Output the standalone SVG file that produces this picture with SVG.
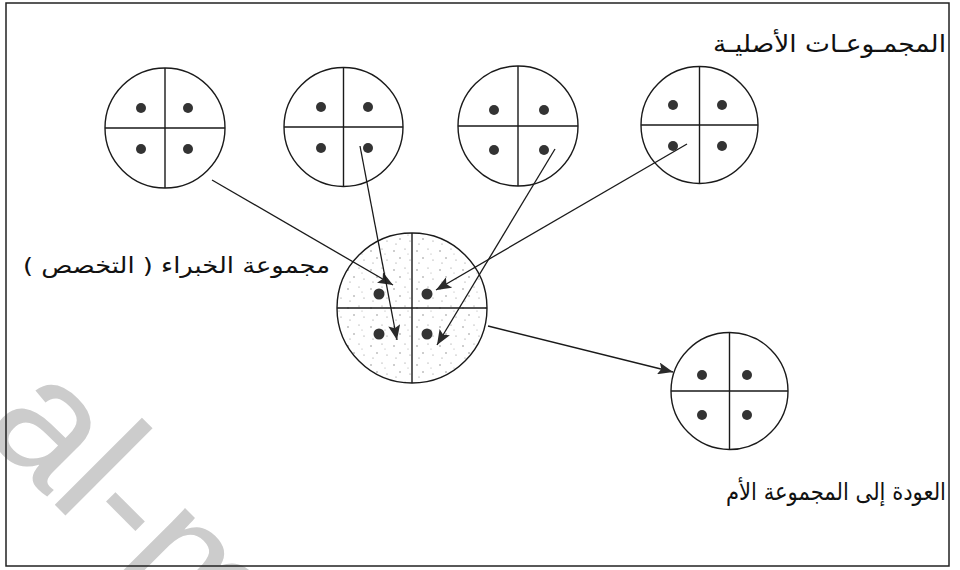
<svg xmlns="http://www.w3.org/2000/svg" width="960" height="570" viewBox="0 0 960 570">
<style>
.ring{fill:#fff;stroke:#1a1a1a;stroke-width:1.4}
.q{stroke:#1a1a1a;stroke-width:1.4;fill:none}
.dot{fill:#333}
.conn{stroke:#1a1a1a;stroke-width:1.3;fill:none;marker-end:url(#ah)}
.lbl{font-family:"DejaVu Sans",sans-serif;fill:#111}
</style>
<defs>
<marker id="ah" markerUnits="userSpaceOnUse" markerWidth="16" markerHeight="12" refX="15" refY="6" orient="auto">
<path d="M0,0 L15,6 L0,12 L3,6 z" fill="#2a2a2a"/>
</marker>
<pattern id="stip" patternUnits="userSpaceOnUse" width="23" height="19">
<rect width="23" height="19" fill="#fff"/>
<circle cx="3" cy="4" r="0.7" fill="#777"/>
<circle cx="14" cy="2" r="0.6" fill="#888"/>
<circle cx="9" cy="11" r="0.7" fill="#777"/>
<circle cx="19" cy="13" r="0.6" fill="#888"/>
<circle cx="5" cy="16" r="0.6" fill="#888"/>
<circle cx="17" cy="7" r="0.5" fill="#999"/>
</pattern>
</defs>
<rect width="960" height="570" fill="#fff"/>
<text x="-20" y="430" transform="rotate(45 -20 430)" font-family="Liberation Sans, sans-serif" font-size="170" fill="#cccccc">al-m</text>
<rect x="6" y="3" width="943" height="563" fill="none" stroke="#222" stroke-width="1.5"/>

<g id="g1">
<circle class="ring" cx="165" cy="128" r="60"/>
<path class="q" d="M105,128 H225 M165,68 V188"/>
<circle class="dot" cx="141" cy="108" r="5"/><circle class="dot" cx="188" cy="108" r="5"/>
<circle class="dot" cx="141" cy="149" r="5"/><circle class="dot" cx="188" cy="149" r="5"/>
</g>
<g id="g2">
<circle class="ring" cx="343.5" cy="127" r="59.5"/>
<path class="q" d="M284,127 H403 M343.5,67.5 V186.5"/>
<circle class="dot" cx="321" cy="107" r="5"/><circle class="dot" cx="368" cy="107" r="5"/>
<circle class="dot" cx="321" cy="148" r="5"/><circle class="dot" cx="368" cy="148" r="5"/>
</g>
<g id="g3">
<circle class="ring" cx="518" cy="126" r="60"/>
<path class="q" d="M458,126 H578 M518,66 V186"/>
<circle class="dot" cx="494" cy="110" r="5"/><circle class="dot" cx="544" cy="110" r="5"/>
<circle class="dot" cx="494" cy="150" r="5"/><circle class="dot" cx="544" cy="150" r="5"/>
</g>
<g id="g4">
<circle class="ring" cx="699.5" cy="125" r="58.5"/>
<path class="q" d="M641,125 H758 M699.5,66.5 V183.5"/>
<circle class="dot" cx="673" cy="105" r="5"/><circle class="dot" cx="722" cy="105" r="5"/>
<circle class="dot" cx="673" cy="146" r="5"/><circle class="dot" cx="722" cy="146" r="5"/>
</g>
<g id="experts">
<circle cx="412" cy="308" r="75" fill="url(#stip)" stroke="#1a1a1a" stroke-width="1.4"/>
<path class="q" d="M337,308 H487 M412,233 V383"/>
<circle class="dot" cx="379" cy="294" r="5.5"/><circle class="dot" cx="427" cy="294" r="5.5"/>
<circle class="dot" cx="379" cy="334" r="5.5"/><circle class="dot" cx="427" cy="334" r="5.5"/>
</g>
<g id="home">
<circle class="ring" cx="729.5" cy="391" r="58.5"/>
<path class="q" d="M671,391 H788 M729.5,332.5 V449.5"/>
<circle class="dot" cx="702" cy="375" r="5"/><circle class="dot" cx="747" cy="375" r="5"/>
<circle class="dot" cx="702" cy="415" r="5"/><circle class="dot" cx="747" cy="415" r="5"/>
</g>

<g id="connectors">
<line class="conn" x1="212" y1="180" x2="393" y2="285"/>
<line class="conn" x1="360" y1="146" x2="397" y2="340"/>
<line class="conn" x1="555" y1="149" x2="437" y2="345"/>
<line class="conn" x1="687" y1="144" x2="436" y2="290"/>
<line class="conn" x1="488" y1="326" x2="673" y2="372"/>
</g>

<g id="labels">
<text class="lbl" x="946" y="52" direction="rtl" text-anchor="start" font-size="24" textLength="233" lengthAdjust="spacingAndGlyphs">المجمـوعـات الأصليـة</text>
<text class="lbl" x="330" y="273" direction="rtl" text-anchor="start" font-size="22" textLength="307" lengthAdjust="spacingAndGlyphs">مجموعة الخبراء ( التخصص )</text>
<text class="lbl" x="946" y="500" direction="rtl" text-anchor="start" font-size="24" textLength="220" lengthAdjust="spacingAndGlyphs">العودة إلى المجموعة الأم</text>
</g>
</svg>
